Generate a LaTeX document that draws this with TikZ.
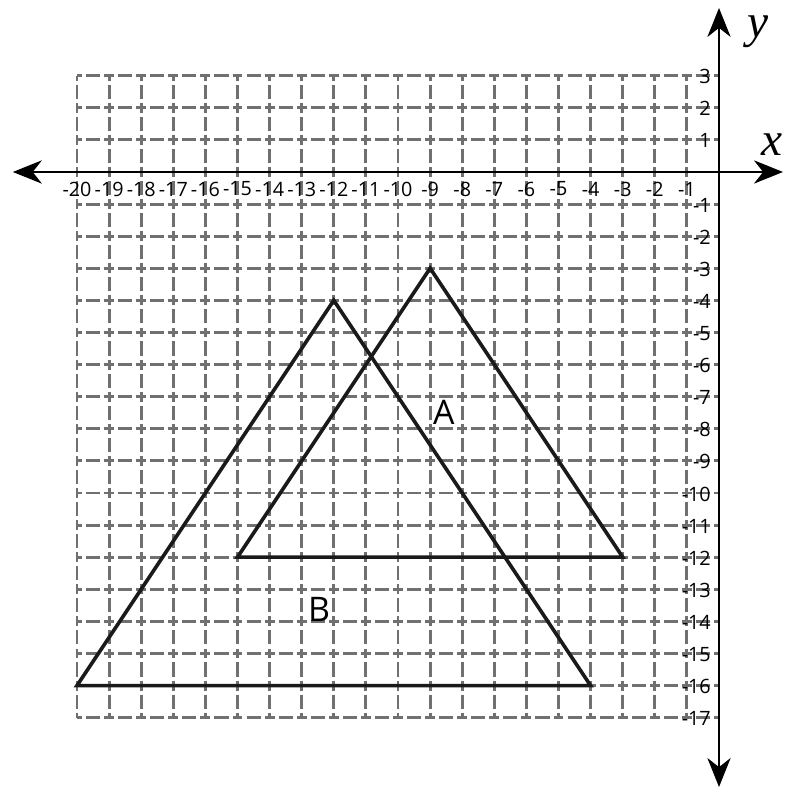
\documentclass[tikz,border=0pt]{standalone}
\usepackage{fontspec}
\usetikzlibrary{arrows.meta}
\newfontfamily\ticklabelfont{Open Sans}
\newfontfamily\varfont{Liberation Serif}
\definecolor{gridgray}{HTML}{707070}
\definecolor{inkblack}{HTML}{1A1A1A}
\begin{document}
\begin{tikzpicture}[x=1cm,y=1cm,
  gridline/.style={draw=gridgray, line width=2.6pt,
    dash pattern=on 0.31cm off 0.125cm on 0.44cm off 0.125cm, dash phase=0.155cm},
  axisline/.style={draw=black, line width=2.6pt,
    -{Stealth[length=0.9cm,width=0.72cm,inset=0.28cm]}},
  triline/.style={draw=inkblack, line width=3.2pt, line join=miter},
  xtick/.style={inner sep=0pt, anchor=center, font=\ticklabelfont\fontsize{17.5}{18}\selectfont},
  ytick/.style={inner sep=0pt, anchor=east, font=\ticklabelfont\fontsize{17.5}{18}\selectfont},
  varlabel/.style={inner sep=0pt, font=\varfont\itshape\fontsize{42}{42}\selectfont},
  trilabel/.style={inner sep=0pt, font=\ticklabelfont\fontsize{30}{31}\selectfont}]
\useasboundingbox (-22.40,-19.56) rectangle (2.523,5.358);
% grid
\foreach \i in {-20,...,-1} {
  \draw[gridline] (\i,3) -- (\i,-17);
}
\foreach \j in {3,2,1,-1,-2,-3,-4,-5,-6,-7,-8,-9,-10,-11,-12,-13,-14,-15,-16,-17} {
  \draw[gridline] (-20,\j) -- (0,\j);
}
% axes
\coordinate (o) at (0,0);
\coordinate (xl) at (-22.0,0);
\coordinate (xr) at (1.994,0);
\coordinate (yb) at (0,-19.16);
\coordinate (yt) at (0,5.11);
\draw[axisline] (o) -- (xl);
\draw[axisline] (o) -- (xr);
\draw[axisline] (o) -- (yb);
\draw[axisline] (o) -- (yt);
\node[varlabel] (xname) at (1.64,0.86) {x};
\node[varlabel] (yname) at (1.2,4.38) {y};
% tick labels
\foreach \i in {-20,...,-1} {
  \node[xtick] (xt\i) at (\i,-0.53) {-\the\numexpr-\i\relax};
}
\foreach \j in {3,2,1} {
  \node[ytick] (yt\j) at (-0.25,\j-0.03) {\j};
}
\foreach \j in {1,...,17} {
  \node[ytick] (ytm\j) at (-0.25,-\j-0.03) {-\j};
}
% triangles
\coordinate (A1) at (-9,-3);
\coordinate (A2) at (-15,-12);
\coordinate (A3) at (-3,-12);
\coordinate (B1) at (-12,-4);
\coordinate (B2) at (-20,-16);
\coordinate (B3) at (-4,-16);
\draw[triline] (A1) -- (A2) -- (A3) -- cycle;
\draw[triline] (B1) -- (B2) -- (B3) -- cycle;
\node[trilabel] (Alab) at (-8.57,-7.48) {A};
\node[trilabel] (Blab) at (-12.46,-13.64) {B};
\end{tikzpicture}
\end{document}
